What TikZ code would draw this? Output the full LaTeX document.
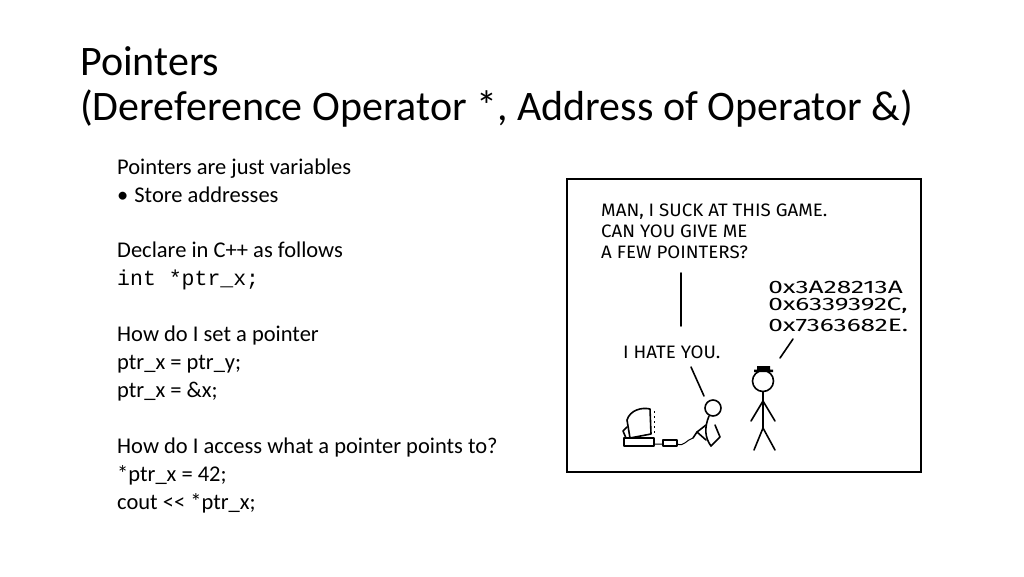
\documentclass[tikz,border=0pt]{standalone}
\usepackage{fontspec}
\setmainfont{Carlito}
\newfontfamily\codefont{Liberation Mono}
\newfontfamily\comicfont{Fira Sans}
\begin{document}
\begin{tikzpicture}[x=1pt,y=-1pt,
  body/.style={anchor=base west,inner sep=0pt,font=\fontsize{22.5}{24}\selectfont},
  comic/.style={anchor=west,inner sep=0pt,align=left,font=\comicfont\fontsize{18}{20}\selectfont,xscale=1.04,transform shape},
  num/.style={comic,xscale=1.4},
  ink/.style={line width=1.6pt,line cap=round,line join=round}]
\useasboundingbox (0,0) rectangle (1024,576);
\node[anchor=base west,inner sep=0pt,font=\fontsize{42}{44}\selectfont] (t1) at (80,75) {Pointers};
\node[anchor=base west,inner sep=0pt,font=\fontsize{42}{44}\selectfont] (t2) at (80,120) {(Dereference Operator *, Address of Operator \&)};
\node[body] (b1) at (117,174) {Pointers are just variables};
\node[body] (b2) at (117,202) {\textbullet\hspace{6pt}Store addresses};
\node[body] (b3) at (117,257) {Declare in C++ as follows};
\node[body,font=\codefont\fontsize{21.5}{24}\selectfont] (b4) at (117,285) {int *ptr\_x;};
\node[body] (b5) at (117,341) {How do I set a pointer};
\node[body] (b6) at (117,369) {ptr\_x = ptr\_y;};
\node[body] (b7) at (117,397) {ptr\_x = \&x;};
\node[body] (b8) at (117,453) {How do I access what a pointer points to?};
\node[body] (b9) at (117,481) {*ptr\_x = 42;};
\node[body] (b10) at (117,509) {cout {<}{<} *ptr\_x;};
% comic
\draw[line width=2.5pt] (567,179) rectangle (921,472);
\node[comic] (c1) at (601,212) {MAN, I SUCK AT THIS GAME.};
\node[comic] (c2) at (601,231) {CAN YOU GIVE ME};
\node[comic] (c3) at (601,252) {A FEW POINTERS?};
\node[num] (n1) at (768,287) {0x3A28213A};
\node[num] (n2) at (768,306) {0x6339392C,};
\node[num] (n3) at (768,325) {0x7363682E.};
\node[comic] (h1) at (623,352) {I HATE YOU.};
\draw[ink] (681,273) -- (681,326);
\draw[ink] (691,367) -- (704,396);
\draw[ink] (793,339) -- (780,358);
% standing figure
\draw[ink] (763,381) circle (10.5);
\fill (754,369.5) rectangle (773,372) (757,366) rectangle (770,370);
\draw[ink] (763,392) -- (763,428) (751,421) -- (763,401) -- (775,421) (754,450) -- (763,428) -- (775,450);
% seated figure
\draw[ink] (713,408) circle (8);
\draw[ink] (709,416) .. controls (704,428) and (705,438) .. (711,446);
\draw[ink] (706,425) -- (697,432) -- (706,440) (711,446) -- (720,437) -- (715,425);
\draw[ink] (697,432) -- (693,438);
% computer
\draw[ink] (630,438) -- (627,420) .. controls (630,410) and (642,407) .. (650,409) -- (651,434) -- (630,438);
\draw[ink] (627,427) -- (623,431) -- (626,438);
\draw[ink] (624,438) rectangle (654,446);
\draw[ink] (663,440) rectangle (677,446);
\draw[line width=1pt] (654,444) -- (663,444) (677,444) .. controls (684,447) and (686,440) .. (693,438);
\draw[line width=1pt,dash pattern=on 2pt off 3pt] (654,411) -- (654,433);
\end{tikzpicture}
\end{document}
